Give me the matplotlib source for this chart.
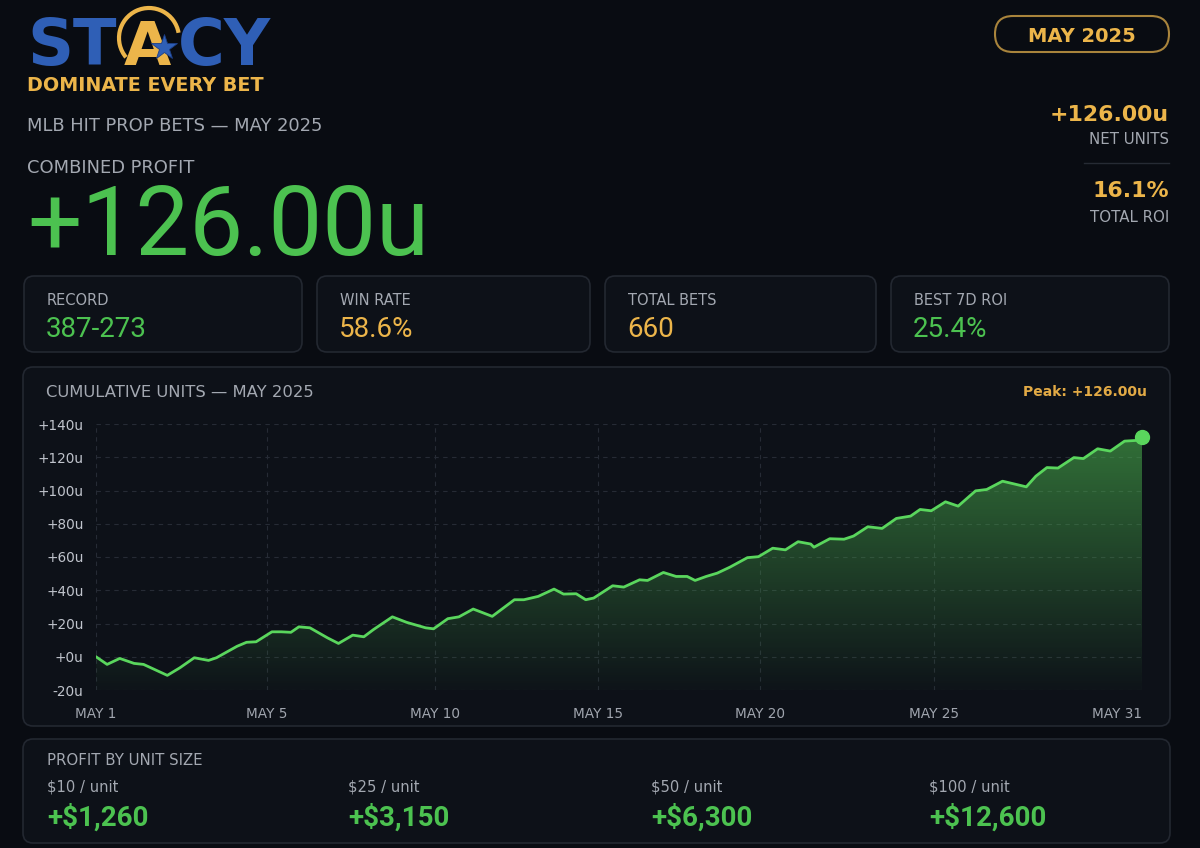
import matplotlib
matplotlib.use('Agg')
import matplotlib.pyplot as plt
from matplotlib.patches import FancyBboxPatch, Polygon, Arc
from matplotlib.colors import LinearSegmentedColormap
import numpy as np

## STACY - MLB HIT PROPS, MAY 2025

# cumulative units (x = bet number)
bet_no = [0, 7, 15, 24, 30, 45, 53, 62, 71, 76, 89, 95, 101, 111, 117,
          123, 128, 135, 146, 153, 162, 169, 175, 187, 196, 208, 213, 222, 229, 238,
          250, 264, 270, 279, 289, 295, 303, 309, 314, 326, 333, 343, 348, 358, 366,
          373, 378, 385, 392, 400, 411, 418, 427, 435, 443, 451, 453, 463, 472, 478,
          487, 496, 505, 514, 520, 527, 536, 544, 555, 562, 572, 580, 587, 593, 600,
          607, 617, 623, 632, 640, 649, 656, 660]
units = [0, -4.6, -1, -4, -4.6, -11.2, -6.6, -0.6, -2.2, -0.6, 6.3, 8.7, 9, 15, 15,
         14.7, 18, 17.4, 11.4, 8, 13, 12, 16.3, 24, 20.7, 17.4, 16.8, 22.9, 24, 28.7,
         24.3, 34.3, 34.3, 36.3, 40.7, 37.7, 37.9, 34.3, 35.3, 42.7, 41.9, 46.3, 45.9, 50.7, 48.3,
         48.3, 45.9, 48.3, 50.3, 53.9, 59.6, 60.2, 65.3, 64.3, 69.2, 67.8, 65.9, 71, 70.7, 72.6,
         78.2, 77.2, 83.2, 84.6, 88.6, 87.8, 93.2, 90.6, 99.8, 100.6, 105.6, 103.8, 102.2, 108.6, 113.8,
         113.5, 119.8, 119.2, 125.1, 123.7, 129.7, 130.1, 132.1]

date_ticks = [0, 108, 214, 317, 419, 529, 660]
date_labels = ['MAY 1', 'MAY 5', 'MAY 10', 'MAY 15', 'MAY 20', 'MAY 25', 'MAY 31']
y_ticks = [-20, 0, 20, 40, 60, 80, 100, 120, 140]

stat_labels = ['RECORD', 'WIN RATE', 'TOTAL BETS', 'BEST 7D ROI']
stat_values = ['387-273', '58.6%', '660', '25.4%']
unit_sizes = ['$10 / unit', '$25 / unit', '$50 / unit', '$100 / unit']
unit_profits = ['+$1,260', '+$3,150', '+$6,300', '+$12,600']

BG = '#090c12'
CARD = '#0d1118'
EDGE = '#232831'
GREEN = '#4cc250'
LINE = '#5ad65d'
GOLD = '#ecb54a'
GRAY = '#a3a8b1'
TICK = '#c0c4cc'
BLUE = '#2f5fb6'
GRID = '#262b35'

W, H = 1200, 848
fig = plt.figure(figsize=(12, 8.48), dpi=100)
fig.patch.set_facecolor(BG)
bg = fig.add_axes([0, 0, 1, 1])
bg.set_xlim(0, W)
bg.set_ylim(H, 0)
bg.axis('off')


def card(x0, y0, x1, y1):
    bg.add_patch(FancyBboxPatch((x0, y0), x1 - x0, y1 - y0,
                                boxstyle='round,pad=0,rounding_size=10',
                                fc=CARD, ec=EDGE, lw=1.2))


# logo
bg.text(27, 65, 'ST', color=BLUE, fontsize=46, fontweight='bold', va='baseline')
bg.text(147, 65, 'A', color=GOLD, fontsize=44, fontweight='bold', va='baseline', ha='center')
bg.text(178, 65, 'CY', color=BLUE, fontsize=46, fontweight='bold', va='baseline')
bg.add_patch(Arc((149, 38), 60, 60, theta1=140, theta2=350, color=GOLD, lw=3, zorder=4))
bg.plot([164], [47], marker='*', ms=19, color=BLUE, mec='#1d3f86', mew=0.6, zorder=5)
bg.text(27, 91, 'DOMINATE EVERY BET', color=GOLD, fontsize=13.8, fontweight='bold', va='baseline')

bg.text(27, 131, 'MLB HIT PROP BETS — MAY 2025', color=GRAY, fontsize=12.9, va='baseline')
bg.text(27, 173, 'COMBINED PROFIT', color=GRAY, fontsize=12.9, va='baseline')
bg.text(27, 255, '+126.00u', color=GREEN, fontsize=69, family='Roboto', va='baseline')

# right header
bg.add_patch(FancyBboxPatch((995, 16), 174, 36, boxstyle='round,pad=0,rounding_size=18',
                            fc='none', ec='#a9843c', lw=1.5))
bg.text(1082, 42, 'MAY 2025', color=GOLD, fontsize=14, fontweight='bold', ha='center', va='baseline')
bg.text(1169, 121, '+126.00u', color=GOLD, fontsize=15.8, fontweight='bold', ha='right', va='baseline')
bg.text(1169, 144, 'NET UNITS', color=GRAY, fontsize=10.8, ha='right', va='baseline')
bg.plot([1084, 1169], [163, 163], color='#262b34', lw=1)
bg.text(1169, 197, '16.1%', color=GOLD, fontsize=15.8, fontweight='bold', ha='right', va='baseline')
bg.text(1169, 222, 'TOTAL ROI', color=GRAY, fontsize=10.8, ha='right', va='baseline')

# stat cards
card_x = [(24, 302), (317, 590), (605, 876), (891, 1169)]
stat_colors = [GREEN, GOLD, GOLD, GREEN]
for (x0, x1), lab, val, c in zip(card_x, stat_labels, stat_values, stat_colors):
    card(x0, 276, x1, 352)
    bg.text(x0 + 23, 305, lab, color=GRAY, fontsize=10.5, va='baseline')
    bg.text(x0 + 22, 337, val, color=c, fontsize=20, family='Roboto', va='baseline')

# chart card
card(23, 367, 1170, 726)
bg.text(46, 397, 'CUMULATIVE UNITS — MAY 2025', color=GRAY, fontsize=11.8, va='baseline')
bg.text(1147, 396, 'Peak: +126.00u', color='#e2aa45', fontsize=10, fontweight='bold', ha='right', va='baseline')

ax = fig.add_axes([96 / W, 1 - 690 / H, (1142 - 96) / W, (690 - 424) / H])
ax.set_facecolor('none')
ax.set_xlim(0, 660)
ax.set_ylim(-20, 140)

cmap = LinearSegmentedColormap.from_list('g', [(0.30, 0.69, 0.31, 0.02), (0.30, 0.72, 0.31, 0.6)])
grad = np.linspace(0, 1, 256).reshape(-1, 1)
im = ax.imshow(grad, extent=[0, 660, -20, 140], origin='lower', cmap=cmap, aspect='auto', zorder=1)
verts = [(bet_no[0], -20)] + list(zip(bet_no, units)) + [(bet_no[-1], -20)]
poly = Polygon(verts, closed=True, fc='none', ec='none')
ax.add_patch(poly)
im.set_clip_path(poly)

ax.plot(bet_no, units, color=LINE, lw=2, zorder=3)
ax.plot(bet_no[-1], units[-1], 'o', ms=10, color=LINE, clip_on=False, zorder=5)

ax.set_yticks(y_ticks)
ax.set_yticklabels(['{:+d}u'.format(v) for v in y_ticks])
ax.set_xticks(date_ticks)
ax.set_xticklabels(date_labels)
ax.get_xticklabels()[-1].set_ha('right')
ax.tick_params(length=0, colors=TICK, labelsize=9.8)
ax.tick_params(axis='y', pad=9)
ax.tick_params(axis='x', pad=12, labelcolor='#a0a5ae')
ax.grid(color=GRID, ls=(0, (4, 4)), lw=0.8)
ax.set_axisbelow(True)
for s in ax.spines.values():
    s.set_visible(False)

# profit by unit size
card(23, 739, 1170, 843)
bg.text(47, 765, 'PROFIT BY UNIT SIZE', color=GRAY, fontsize=10.8, va='baseline')
for x0, lab, val in zip([47, 348, 651, 929], unit_sizes, unit_profits):
    bg.text(x0, 792, lab, color=GRAY, fontsize=10.6, va='baseline')
    bg.text(x0, 826, val, color=GREEN, fontsize=20, family='Roboto', fontweight='bold', va='baseline')

plt.savefig('out.png', dpi=100, facecolor=BG)
plt.close()
